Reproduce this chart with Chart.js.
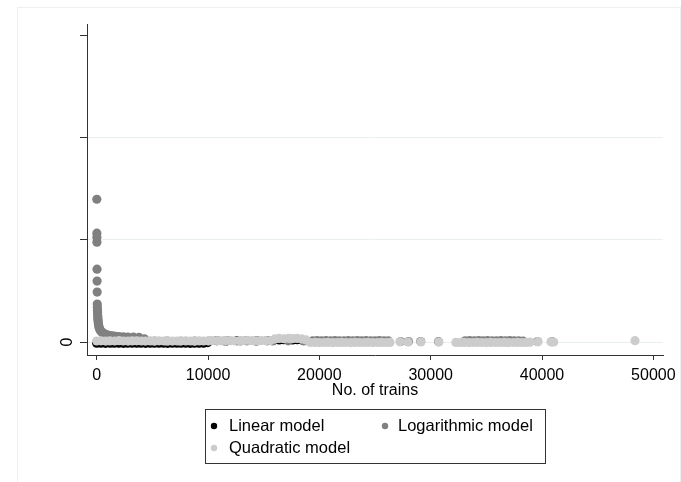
<!DOCTYPE html>
<html>
<head>
<meta charset="utf-8">
<script src="https://cdn.jsdelivr.net/npm/chart.js@4.4.0/dist/chart.umd.min.js"></script>
<style>
  html, body { margin: 0; padding: 0; background: #fff; }
  #wrap { width: 681px; height: 482px; }
</style>
</head>
<body>
<div id="wrap"><canvas id="myChart" width="681" height="482"></canvas></div>
<script>
// x = no. of trains, y = model prediction, one pair of arrays per model
const linX = [
  0, 380, 790, 1200, 1580, 1990, 2400, 2780, 3190, 3600, 3980, 4390, 4800,
  5180, 5590, 6000, 6380, 6790, 7200, 7580, 7990, 8400, 8780, 9190, 9600, 9980,
  10800, 11700, 12600, 13500, 14400, 15300,
  16000, 16400, 16800, 17200, 17600, 18000, 18400
];
const linY = [
  -0.012, -0.011, -0.013, -0.012, -0.011, -0.012, -0.013, -0.012, -0.011, -0.012, -0.012, -0.013, -0.011,
  -0.012, -0.012, -0.011, -0.013, -0.012, -0.012, -0.011, -0.012, -0.013, -0.012, -0.011, -0.012, -0.006,
  0.013, 0.012, 0.013, 0.013, 0.012, 0.013,
  0.021, 0.02, 0.022, 0.021, 0.02, 0.022, 0.021
];

const logX = [
  10, 15, 18, 22, 28, 35, 42, 50, 60, 70, 80, 90, 100, 115, 130, 150, 170, 200,
  240, 290, 350, 420, 500, 600, 720, 860, 1000, 1200, 1450, 1700, 2000, 2400,
  2800, 3300, 3800, 4300,
  5200, 6300, 7500, 8800, 10100, 11500, 12900, 14300, 15800, 17200, 18600,
  19400, 19800, 20200, 20600, 21000, 21400, 21800, 22200, 22600, 23000, 23400,
  23800, 24200, 24600, 25000, 25400, 25800, 26200,
  27300, 28000, 29100, 30700,
  33100, 33500, 33900, 34300, 34700, 35100, 35500, 35900, 36300, 36700, 37100,
  37500, 37900,
  38300, 39600, 40900
];
const logY = [
  1.395, 1.063, 1.024, 0.976, 0.712, 0.595, 0.488, 0.371, 0.34, 0.31, 0.285, 0.26, 0.24, 0.22, 0.2, 0.18, 0.165, 0.15,
  0.135, 0.12, 0.11, 0.1, 0.092, 0.085, 0.078, 0.072, 0.067, 0.063, 0.059, 0.056, 0.053, 0.05,
  0.048, 0.047, 0.045, 0.03,
  0.008, 0.008, 0.007, 0.008, 0.01, 0.009, 0.01, 0.009, 0.011, 0.012, 0.01,
  0.012, 0.014, 0.011, 0.013, 0.012, 0.014, 0.012, 0.011, 0.013, 0.012, 0.014,
  0.012, 0.013, 0.011, 0.012, 0.014, 0.012, 0.011,
  0.005, 0.004, 0.005, 0.003,
  0.012, 0.013, 0.011, 0.014, 0.012, 0.013, 0.012, 0.011, 0.013, 0.012, 0.014,
  0.012, 0.011,
  0.008, 0.004, 0.003
];

const quadX = [
  0, 390, 810, 1180, 1620, 2010, 2390, 2820, 3200, 3610, 4020, 4380, 4810,
  5190, 5600, 6030, 6410, 6800, 7220, 7590, 8010, 8420, 8790, 9210, 9600,
  10010, 10400, 10820, 11190, 11610, 12000, 12390, 12820, 13200, 13590, 14010, 14420, 14800, 15210, 15600,
  16010, 16390, 16800, 17220, 17590, 18000, 18410, 18800,
  19190, 19610, 20000, 20420, 20790, 21200, 21610, 22000, 22390, 22810, 23200, 23600, 24010, 24390, 24800, 25220, 25600, 26000, 26340,
  27240, 27950, 29120, 30730, 32260, 32650, 33010, 33420, 33800, 34180, 34590, 34990, 35380,
  35800, 36190, 36600, 36980, 37410, 37800, 38200, 38600, 38920, 39640, 40800, 41050, 48350
];
const quadY = [
  0.010, 0.012, 0.009, 0.011, 0.010, 0.013, 0.010, 0.009, 0.011, 0.012, 0.010, 0.009, 0.011,
  0.010, 0.012, 0.010, 0.011, 0.009, 0.010, 0.012, 0.011, 0.010, 0.009, 0.011, 0.010,
  0.012, 0.014, 0.013, 0.012, 0.014, 0.013, 0.012, 0.014, 0.013, 0.015, 0.013, 0.012, 0.014, 0.013, 0.014,
  0.030, 0.035, 0.032, 0.036, 0.033, 0.035, 0.030, 0.020,
  -0.005, -0.004, -0.006, -0.005, -0.004, -0.006, -0.005, -0.004, -0.005, -0.006, -0.004, -0.005, -0.005, -0.004, -0.006, -0.005, -0.004, -0.005, -0.004,
  0.002, 0.0, 0.001, 0.0, -0.004, -0.005, -0.004, -0.006, -0.005, -0.004, -0.005, -0.006, -0.004,
  -0.005, -0.005, -0.004, -0.006, -0.005, -0.004, -0.005, -0.004, -0.002, 0.003, 0.002, 0.0, 0.013
];

const xTicks = [0, 10000, 20000, 30000, 40000, 50000];
const yTicks = [0, 1, 2, 3];
const yTickLabels = ['0', '', '', ''];

const toPoints = (xs, ys) => xs.map((x, i) => ({x: x, y: ys[i]}));

Chart.defaults.font.family = '"Liberation Sans", Arial, Helvetica, sans-serif';
Chart.defaults.font.size = 16;
Chart.defaults.color = '#000';

// faint outer box of the graph region
const frame = {
  id: 'frame',
  beforeDraw(chart) {
    const ctx = chart.ctx;
    ctx.save();
    ctx.fillStyle = '#fff';
    ctx.fillRect(0, 0, chart.width, chart.height);
    ctx.strokeStyle = '#efefef';
    ctx.lineWidth = 1;
    ctx.strokeRect(17.5, 7.5, 663, 490);
    ctx.restore();
  }
};

// boxed two column legend under the axis title
const boxLegend = {
  id: 'boxLegend',
  afterDraw(chart) {
    const ctx = chart.ctx;
    const slots = [[214, 426, 229], [385, 426, 398], [214, 448, 229]];
    ctx.save();
    ctx.strokeStyle = '#333';
    ctx.lineWidth = 1;
    ctx.strokeRect(205.5, 409.5, 340, 54);
    ctx.font = '16.5px "Liberation Sans", Arial, sans-serif';
    ctx.textBaseline = 'middle';
    chart.data.datasets.forEach((d, i) => {
      const [mx, my, tx] = slots[i];
      ctx.fillStyle = d.backgroundColor;
      ctx.beginPath();
      ctx.arc(mx, my, 3.2, 0, Math.PI * 2);
      ctx.fill();
      ctx.fillStyle = '#000';
      ctx.fillText(d.label, tx, my);
    });
    ctx.restore();
  }
};

const data = {
  datasets: [{
    label: 'Linear model',
    data: toPoints(linX, linY),
    backgroundColor: '#000000',
    borderColor: '#000000',
    order: 2
  }, {
    label: 'Logarithmic model',
    data: toPoints(logX, logY),
    backgroundColor: '#808080',
    borderColor: '#808080',
    order: 1
  }, {
    label: 'Quadratic model',
    data: toPoints(quadX, quadY),
    backgroundColor: '#cccccc',
    borderColor: '#cccccc',
    order: 0
  }]
};

const config = {
  type: 'scatter',
  data,
  options: {
    responsive: false,
    animation: false,
    devicePixelRatio: 1,
    elements: { point: { radius: 4.6, borderWidth: 0, hoverRadius: 4.6 } },
    layout: { padding: { left: 0, top: 24, right: 18, bottom: 82 } },
    plugins: { legend: { display: false }, tooltip: { enabled: false } },
    scales: {
      x: {
        type: 'linear',
        min: -871,
        max: 50866,
        afterBuildTicks: (s) => { s.ticks = xTicks.map(v => ({value: v})); },
        ticks: { color: '#000', padding: 6, maxRotation: 0, autoSkip: false, callback: (v) => String(v) },
        grid: { drawOnChartArea: false, tickLength: 5, tickColor: '#333' },
        border: { color: '#333' },
        title: { display: true, text: 'No. of trains', color: '#000', padding: 0 },
        afterFit: (s) => { s.height = 45; s.paddingLeft = 0; s.paddingRight = 0; }
      },
      y: {
        type: 'linear',
        min: -0.127,
        max: 3.1075,
        afterBuildTicks: (s) => { s.ticks = yTicks.map(v => ({value: v})); },
        ticks: {
          color: '#000', padding: 8, minRotation: 90, maxRotation: 90, crossAlign: 'center', autoSkip: false,
          callback: (v) => yTickLabels[yTicks.indexOf(v)]
        },
        grid: {
          tickLength: 7,
          tickColor: '#333',
          color: (c) => (c.tick && c.tick.value === 3) ? 'rgba(0,0,0,0)' : '#e9efef'
        },
        border: { color: '#333' },
        afterFit: (s) => { s.width = 87; s.paddingTop = 0; s.paddingBottom = 0; }
      }
    }
  },
  plugins: [frame, boxLegend]
};

var myChart = new Chart(document.getElementById('myChart'), config);
</script>
</body>
</html>
